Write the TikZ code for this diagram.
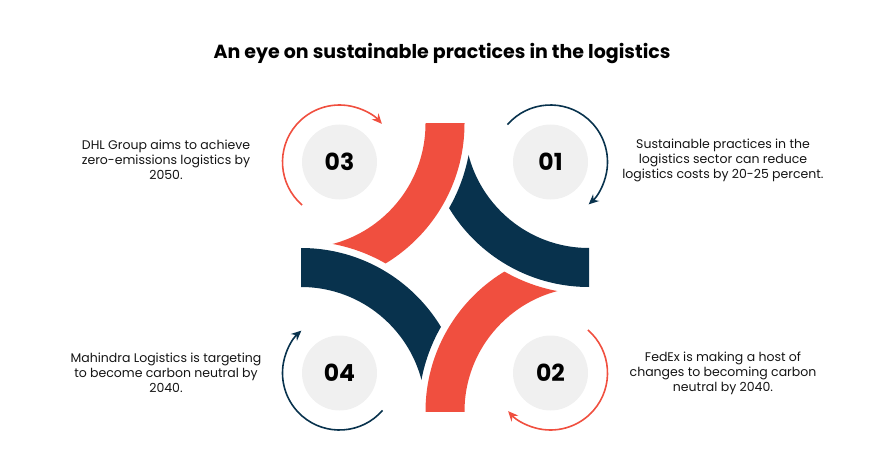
\documentclass[tikz,border=0pt]{standalone}
\usepackage{fontspec}
\setmainfont{Poppins}
\usetikzlibrary{arrows.meta}
\definecolor{brandred}{RGB}{240,79,63}
\definecolor{brandnavy}{RGB}{8,50,77}
\definecolor{disc}{RGB}{240,240,240}
\definecolor{txt}{RGB}{20,20,20}
\begin{document}
\begin{tikzpicture}[x=1pt,y=1pt,
  numdisc/.style={circle,fill=disc,minimum size=75pt,inner sep=0pt,
    font=\fontsize{23.5}{23.5}\selectfont\bfseries},
  infotext/.style={align=center,text=txt,font=\fontsize{12.5}{15}\selectfont},
  titletext/.style={font=\fontsize{19}{21}\selectfont\bfseries},
  cyclearrow/.style={line width=1.6pt,-{Stealth[length=10pt,width=9pt]}},
]
\useasboundingbox (0,0) rectangle (890,472);
% arc centres of the four bands
\coordinate (C1) at (301,348.5);
\coordinate (C2) at (589,348.5);
\coordinate (C3) at (589,60.5);
\coordinate (C4) at (301,60.5);
% top-left red band
\begin{scope}[even odd rule]
  \clip (C1) rectangle ++(170,-170);
  \clip (C4) circle (170.5) (-10,-10) rectangle (900,482);
  \fill[brandred] (C1) circle (163.5) (C1) circle (124.5);
\end{scope}
% top-right navy band
\begin{scope}[even odd rule]
  \clip (C2) rectangle ++(-170,-170);
  \clip (C1) circle (170.5) (-10,-10) rectangle (900,482);
  \fill[brandnavy] (C2) circle (163.5) (C2) circle (124.5);
\end{scope}
% bottom-right red band
\begin{scope}[even odd rule]
  \clip (C3) rectangle ++(-170,170);
  \clip (C2) circle (170.5) (-10,-10) rectangle (900,482);
  \fill[brandred] (C3) circle (163.5) (C3) circle (124.5);
\end{scope}
% bottom-left navy band
\begin{scope}[even odd rule]
  \clip (C4) rectangle ++(170,170);
  \clip (C3) circle (170.5) (-10,-10) rectangle (900,482);
  \fill[brandnavy] (C4) circle (163.5) (C4) circle (124.5);
\end{scope}
% title
\node[titletext] (title) at (442,418.5) {An eye on sustainable practices in the logistics};
% number discs
\node[numdisc] (n3) at (339.5,310) {03};
\node[numdisc] (n1) at (550.5,310) {01};
\node[numdisc] (n2) at (550.5,99) {02};
\node[numdisc] (n4) at (339.5,99) {04};
% cycle arrows
\draw[cyclearrow,brandred] ([shift={(229:57)}]n3.center) arc[start angle=229,end angle=42,radius=57];
\draw[cyclearrow,brandnavy] ([shift={(139:57)}]n1.center) arc[start angle=139,end angle=-48,radius=57];
\draw[cyclearrow,brandred] ([shift={(49:57)}]n2.center) arc[start angle=49,end angle=-138,radius=57];
\draw[cyclearrow,brandnavy] ([shift={(-41:57)}]n4.center) arc[start angle=-41,end angle=-228,radius=57];
% texts
\node[infotext] (t3) at (166,312) {DHL Group aims to achieve\\zero-emissions logistics by\\2050.};
\node[infotext] (t1) at (723,312) {Sustainable practices in the\\logistics sector can reduce\\logistics costs by 20-25 percent.};
\node[infotext] (t4) at (166,99) {Mahindra Logistics is targeting\\to become carbon neutral by\\2040.};
\node[infotext] (t2) at (723,99) {FedEx is making a host of\\changes to becoming carbon\\neutral by 2040.};
\end{tikzpicture}
\end{document}
